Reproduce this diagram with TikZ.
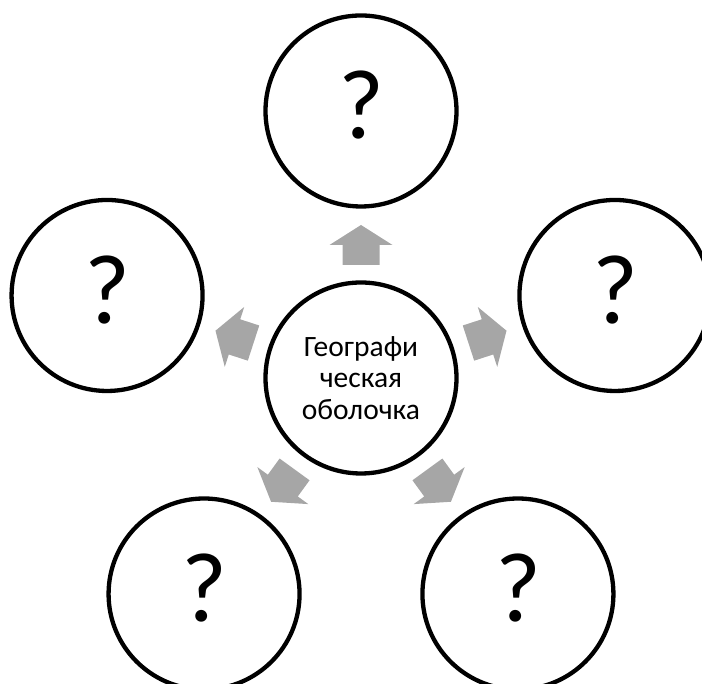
\documentclass[tikz,border=0pt]{standalone}
\usepackage{fontspec}
\setmainfont{Carlito}
\usetikzlibrary{calc}
\definecolor{arrowgray}{RGB}{166,166,166}
\tikzset{
  bubble/.style={circle, draw=black, line width=4.3pt, fill=white, minimum size=191pt, inner sep=0pt},
  qmark/.style={bubble, font=\fontsize{99}{99}\selectfont, text depth=12pt},
  hub/.style={bubble, font=\fontsize{29.5}{31.5}\selectfont, align=center},
  blockarrow/.style={fill=arrowgray, draw=none}
}
\begin{document}
\begin{tikzpicture}[x=1pt,y=1pt]
\useasboundingbox (0,0) rectangle (702,684);
\coordinate (c) at (361,306);
\node[hub] (hubnode) at (c) {Географи\\ческая\\оболочка};
\foreach \a/\n in {90/top,18/right,162/left,234/bl,306/br}{
  \node[qmark] (\n) at ($(c)+(\a:267)$) {?};
  \begin{scope}[shift={(c)}, rotate=\a]
    \fill[blockarrow] (113,-18.5) -- (133,-18.5) -- (133,-31.5) -- (153,0) -- (133,31.5) -- (133,18.5) -- (113,18.5) -- cycle;
  \end{scope}
}
\end{tikzpicture}
\end{document}
